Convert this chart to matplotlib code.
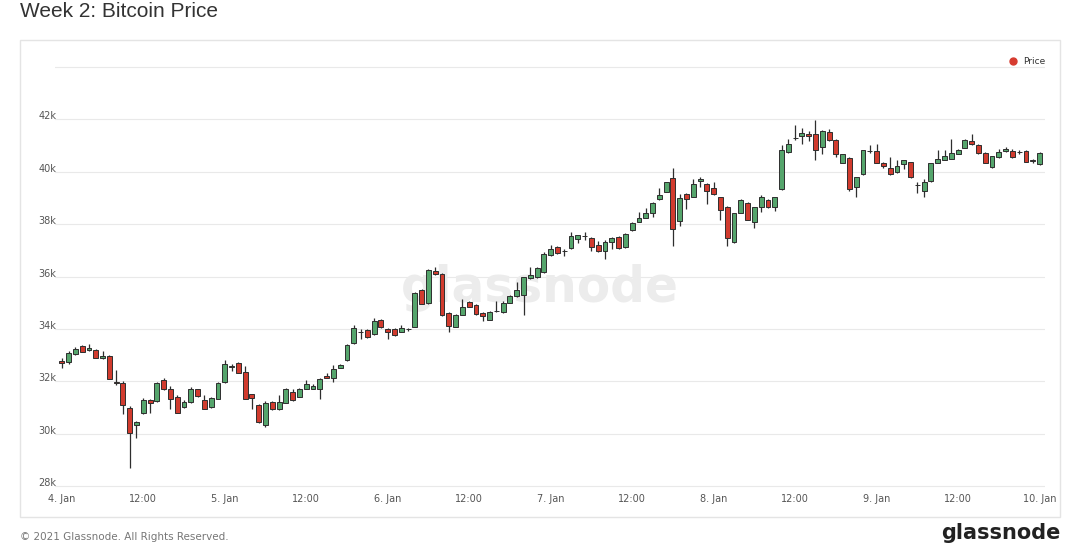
import matplotlib
matplotlib.use("Agg")
import matplotlib.pyplot as plt
from matplotlib.patches import Rectangle
from matplotlib.lines import Line2D
import numpy as np

# hourly candles, 4 Jan 00:00 -> 10 Jan 00:00
open_ = [32777, 32739, 33057, 33350, 33210, 33185, 32879, 32968, 31962, 31949,
         30980, 30331, 30777, 31286, 31248, 32038, 31694, 31401, 31031, 31210,
         31694, 31274, 31031, 31337, 31987, 32547, 32688, 32369, 31503, 31095,
         30331, 31210, 30930, 31184, 31592, 31414, 31719, 31719, 31694, 32204,
         32140, 32522, 32802, 33477, 33872, 33949, 33796, 34331, 33987, 34013,
         33898, 33987, 34089, 35490, 34981, 36229, 36089, 34624, 34089, 34548,
         35045, 34917, 34624, 34357, 34675, 34662, 35006, 35261, 35299, 35936,
         35962, 36153, 36835, 37126, 36955, 37076, 37430, 37544, 37468, 37190,
         36974, 37303, 37519, 37126, 37759, 38088, 38253, 38443, 38949, 39240,
         39747, 38101, 39139, 39051, 39633, 39532, 39367, 39025, 38671, 37303,
         38443, 38823, 38063, 38671, 38924, 38671, 39342, 40760, 41300, 41367,
         41431, 41431, 40950, 41519, 41228, 40342, 40544, 39405, 39899, 40795,
         40798, 40342, 40127, 40000, 40291, 40354, 39500, 39266, 39646, 40342,
         40468, 40506, 40696, 40924, 41165, 41038, 40722, 40165, 40570, 40798,
         40798, 40765, 40798, 40468, 40291]
high = [32904, 33159, 33312, 33401, 33414, 33223, 33159, 32993, 32433, 32012,
        31057, 30484, 31363, 31312, 31974, 32140, 31821, 31465, 31286, 31796,
        31719, 31465, 31401, 31974, 32802, 32649, 32739, 32586, 31528, 31121,
        31248, 31235, 31490, 31758, 31694, 31745, 32038, 31885, 32127, 32318,
        32611, 32675, 33439, 34140, 33987, 33987, 34433, 34369, 34051, 34038,
        34140, 34051, 35414, 35541, 36280, 36344, 36115, 34650, 34573, 35159,
        35070, 34968, 34650, 34688, 35070, 35070, 35287, 35771, 35987, 36344,
        36344, 36917, 37215, 37177, 37050, 37696, 37595, 37683, 37494, 37367,
        37405, 37494, 37544, 37646, 38063, 38456, 38607, 38835, 39367, 39620,
        40127, 39152, 39177, 39709, 39810, 39557, 39595, 39051, 38696, 38443,
        38949, 38848, 38671, 39126, 38949, 39051, 41013, 41266, 41798, 41671,
        41545, 41962, 41582, 41646, 41253, 40696, 40570, 39810, 40848, 41038,
        41051, 40367, 40570, 40443, 40468, 40380, 39620, 39709, 40342, 40848,
        40848, 41241, 40874, 41253, 41431, 41063, 40760, 40620, 40886, 40950,
        40886, 40848, 40823, 40506, 40760]
low = [32522, 32649, 32993, 33108, 33159, 32879, 32840, 32076, 31860, 30738,
       28700, 29847, 30738, 30802, 31210, 31668, 30930, 30777, 30993, 31184,
       31414, 30930, 30993, 31312, 31949, 32395, 32306, 31312, 30955, 30420,
       30267, 30904, 30904, 31159, 31248, 31388, 31694, 31694, 31312, 32115,
       31974, 32497, 32777, 33439, 33605, 33669, 33758, 34051, 33605, 33745,
       33872, 33923, 34064, 34943, 34955, 36064, 34509, 33885, 34064, 34522,
       34828, 34535, 34318, 34331, 34650, 34624, 34981, 35236, 34522, 35911,
       35936, 36127, 36772, 36873, 36772, 37050, 37278, 37405, 36962, 36949,
       36670, 37050, 37063, 37101, 37734, 38063, 38228, 38266, 38924, 39215,
       37152, 37937, 38569, 39025, 39405, 38772, 39126, 38164, 37152, 37278,
       38418, 38139, 37848, 38481, 38607, 38519, 39316, 40734, 41228, 41076,
       41165, 40443, 40696, 41177, 40570, 40317, 39266, 39025, 39873, 40734,
       40317, 40127, 39873, 39962, 40114, 39759, 39177, 39025, 39620, 40317,
       40443, 40481, 40671, 40899, 41025, 40696, 40317, 40139, 40544, 40772,
       40544, 40696, 40354, 40317, 40266]
close = [32700, 33095, 33248, 33134, 33261, 32891, 32968, 32102, 31949, 31095,
         30038, 30458, 31299, 31159, 31949, 31694, 31312, 30802, 31210, 31694,
         31439, 30955, 31376, 31923, 32649, 32586, 32331, 31337, 31363, 30445,
         31184, 30930, 31210, 31694, 31286, 31719, 31885, 31821, 32076, 32140,
         32458, 32624, 33388, 34051, 33885, 33707, 34306, 34076, 33898, 33770,
         34051, 33995, 35388, 34968, 36255, 36089, 34535, 34115, 34548, 34853,
         34853, 34560, 34497, 34662, 34690, 35006, 35261, 35490, 35962, 36051,
         36318, 36854, 37050, 36898, 36965, 37532, 37570, 37550, 37126, 36974,
         37303, 37456, 37101, 37620, 38038, 38253, 38418, 38797, 39126, 39595,
         37810, 38987, 38949, 39519, 39734, 39266, 39152, 38544, 37468, 38418,
         38924, 38164, 38645, 39051, 38645, 39025, 40848, 41076, 41305, 41494,
         41367, 40823, 41545, 41203, 40696, 40671, 39329, 39785, 40823, 40800,
         40342, 40215, 39899, 40215, 40443, 39810, 39490, 39620, 40317, 40506,
         40595, 40722, 40848, 41228, 41051, 40722, 40342, 40595, 40760, 40886,
         40570, 40770, 40380, 40418, 40734]

tick_hours = [0, 12, 24, 36, 48, 60, 72, 84, 96, 108, 120, 132, 144]
tick_labels = ["4. Jan", "12:00", "5. Jan", "12:00", "6. Jan", "12:00", "7. Jan",
               "12:00", "8. Jan", "12:00", "9. Jan", "12:00", "10. Jan"]
y_ticks = [28000, 30000, 32000, 34000, 36000, 38000, 40000, 42000, 44000]
y_labels = ["28k", "30k", "32k", "34k", "36k", "38k", "40k", "42k", ""]

GREEN = "#55a56c"
RED = "#d13b2e"
EDGE = "#2e2e2e"

W, H = 1080, 544
fig = plt.figure(figsize=(W / 100, H / 100), dpi=100)
fig.patch.set_facecolor("white")

# white card behind the chart
fig.patches.append(Rectangle((20 / W, 27 / H), 1040 / W, 477 / H, transform=fig.transFigure,
                             facecolor="white", edgecolor="#e4e4e4", lw=1, zorder=-5))

ax = fig.add_axes([55 / W, 54 / H, 990 / W, 426 / H])
ax.set_facecolor("none")
ax.set_zorder(2)

o = np.array(open_)
c = np.array(close)
hi = np.array(high)
lo = np.array(low)
t = np.arange(len(c))
up = c >= o

ax.vlines(t, lo, hi, color=EDGE, lw=0.9, zorder=2)
body_h = np.abs(c - o)
ax.bar(t, body_h, bottom=np.minimum(o, c), width=0.72,
       color=np.where(up, GREEN, RED), edgecolor=EDGE, linewidth=0.7, zorder=3)

# watermark
ax.text(0.49, 0.475, "glassnode", transform=ax.transAxes, ha="center", va="center",
        fontsize=35, fontweight="bold", color="#ececec", zorder=1)

ax.set_xlim(-1, 144.8)
ax.set_ylim(27847, 44115)
ax.set_xticks(tick_hours)
ax.set_xticklabels(tick_labels)
ax.set_yticks(y_ticks)
ax.set_yticklabels(y_labels)
for lab in ax.get_yticklabels():
    lab.set_ha("left")
    lab.set_va("baseline")
ax.tick_params(axis="x", length=0, pad=3, labelsize=7, labelcolor="#555555")
ax.tick_params(axis="y", length=0, pad=12, labelsize=7, labelcolor="#555555")
ax.grid(axis="y", color="#e9e9e9", lw=0.8, zorder=0)
ax.set_axisbelow(True)
for s in ax.spines.values():
    s.set_visible(False)

leg = ax.legend(handles=[Line2D([], [], marker="o", ls="", color="#d63b2f", ms=5)],
                labels=["Price"], loc="upper right", frameon=False, fontsize=6.5,
                handletextpad=0.1, borderpad=0, borderaxespad=0,
                bbox_to_anchor=(1045 / W, (H - 57) / H), bbox_transform=fig.transFigure)
for txt in leg.get_texts():
    txt.set_color("#333333")

fig.text(20 / W, 1 - 2 / H, "Week 2: Bitcoin Price", fontsize=15, color="#333333",
         va="top", family="Liberation Sans")
fig.text(20 / W, 2 / H, "© 2021 Glassnode. All Rights Reserved.", fontsize=7.5,
         color="#777777", va="bottom")
fig.text(1060 / W, 1 / H, "glassnode", fontsize=15, fontweight="bold", color="#222222",
         ha="right", va="bottom")

fig.savefig("out.png", dpi=100)
